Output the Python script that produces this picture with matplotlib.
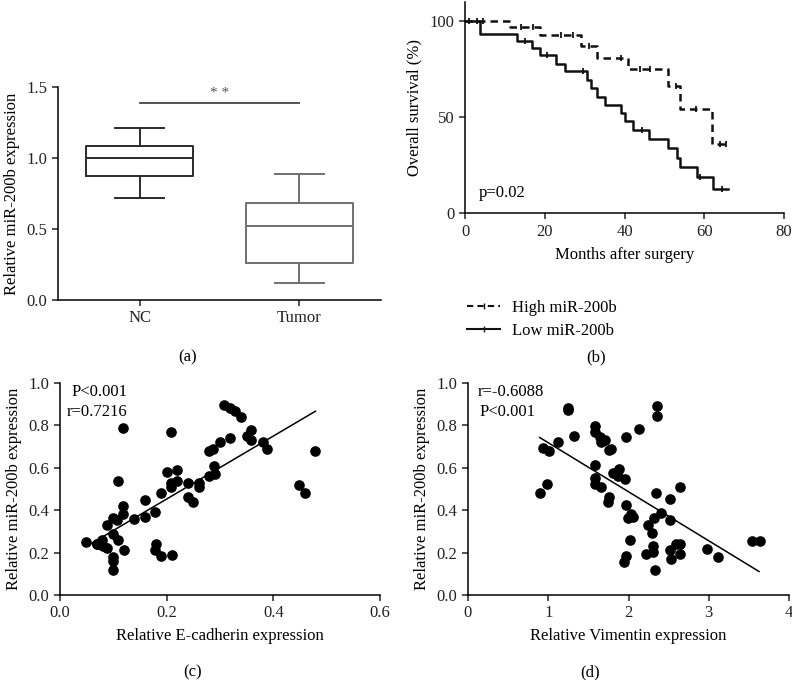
import matplotlib
matplotlib.use('Agg')
import matplotlib.pyplot as plt
from matplotlib.lines import Line2D
import numpy as np

plt.rcParams['font.family'] = ['Liberation Serif', 'DejaVu Serif']
plt.rcParams['font.size'] = 11
plt.rcParams['axes.linewidth'] = 1.1
plt.rcParams['xtick.major.size'] = 4
plt.rcParams['ytick.major.size'] = 4
plt.rcParams['xtick.major.width'] = 1.1
plt.rcParams['ytick.major.width'] = 1.1

# ---- (a) box plot summary values ----
groups = ['NC', 'Tumor']
box_q1 = [0.875, 0.26]
box_med = [1.0, 0.52]
box_q3 = [1.085, 0.685]
box_lo = [0.72, 0.12]
box_hi = [1.21, 0.89]
box_cols = ['#2b2b2b', '#707070']
sig_y = 1.39

# ---- (b) Kaplan-Meier curves ----
high_t = [0, 11.3, 18.8, 29, 33, 41, 51, 54, 62, 66]
high_s = [100, 96.7, 92.9, 87, 81, 75, 66, 54, 36, 36]
high_cens = [1, 3, 4.5, 14, 17, 24, 27, 31, 39, 44, 46.5, 53, 58, 64, 65.5]
low_t = [0, 3.8, 13, 16.7, 18.9, 22.9, 25, 30.5, 31.7, 33, 35, 39, 40.1,
         42.2, 46.2, 50.9, 53.2, 53.9, 58.2, 62.3, 66]
low_s = [100, 93.1, 89.7, 86.2, 82.1, 77.9, 74, 69.5, 65, 60.5, 56.3, 52,
         47.8, 43.3, 38.9, 34.1, 28.9, 24, 18.7, 12.5, 12.5]
low_cens = [15, 20.5, 29.5, 44.5, 59, 64.5]

# ---- (c) E-cadherin vs miR-200b ----
ecad_x = [0.049, 0.069, 0.07, 0.078, 0.081, 0.089, 0.089, 0.1, 0.1, 0.1, 0.1,
          0.099, 0.109, 0.107, 0.109, 0.119, 0.119, 0.119, 0.12, 0.139, 0.159,
          0.159, 0.179, 0.18, 0.179, 0.19, 0.19, 0.2, 0.209, 0.209, 0.209,
          0.21, 0.22, 0.22, 0.24, 0.24, 0.25, 0.26, 0.26, 0.279, 0.287, 0.279,
          0.289, 0.29, 0.3, 0.308, 0.319, 0.319, 0.329, 0.339, 0.35, 0.359,
          0.359, 0.38, 0.389, 0.449, 0.459, 0.479]
ecad_y = [0.25, 0.24, 0.24, 0.26, 0.23, 0.22, 0.33, 0.365, 0.29, 0.18, 0.16,
          0.12, 0.54, 0.355, 0.26, 0.79, 0.42, 0.38, 0.21, 0.36, 0.45,
          0.37, 0.39, 0.24, 0.21, 0.48, 0.185, 0.58, 0.77, 0.53, 0.51,
          0.19, 0.59, 0.54, 0.53, 0.46, 0.44, 0.53, 0.51, 0.68, 0.69, 0.56,
          0.61, 0.57, 0.72, 0.895, 0.74, 0.88, 0.87, 0.84, 0.75, 0.78,
          0.73, 0.72, 0.69, 0.52, 0.48, 0.68]
ecad_fit_x = [0.05, 0.479]
ecad_fit_y = [0.23, 0.867]

# ---- (d) Vimentin vs miR-200b ----
vim_x = [0.893, 0.934, 0.984, 1.009, 1.121, 1.321, 1.246, 1.246, 1.587, 1.578,
         1.587, 1.587, 1.587, 1.653, 1.649, 1.661, 1.703, 1.753, 1.786, 1.753,
         1.745, 1.807, 1.857, 1.882, 1.869, 1.973, 1.961, 1.973, 1.994, 2.035,
         2.056, 2.023, 1.973, 1.944, 2.131, 2.214, 2.247, 2.297, 2.305, 2.305,
         2.318, 2.334, 2.347, 2.355, 2.355, 2.409, 2.513, 2.521, 2.513, 2.534,
         2.596, 2.646, 2.646, 2.646, 2.982, 3.111, 3.543, 3.643]
vim_y = [0.483, 0.694, 0.522, 0.68, 0.721, 0.749, 0.884, 0.872, 0.796, 0.77,
         0.613, 0.55, 0.524, 0.509, 0.743, 0.723, 0.73, 0.683, 0.691, 0.464,
         0.437, 0.574, 0.581, 0.592, 0.561, 0.743, 0.545, 0.423, 0.362, 0.382,
         0.37, 0.26, 0.182, 0.158, 0.782, 0.194, 0.329, 0.292, 0.232, 0.205,
         0.362, 0.119, 0.483, 0.892, 0.843, 0.389, 0.453, 0.353, 0.212, 0.171,
         0.24, 0.24, 0.193, 0.511, 0.219, 0.179, 0.257, 0.254]
vim_fit_x = [0.893, 3.626]
vim_fit_y = [0.743, 0.111]

fig = plt.figure(figsize=(7.92, 6.8), dpi=100)
W, H = 792.0, 680.0
FS = 12


def add_ax(l, t, r, b):
    return fig.add_axes([l / W, 1 - b / H, (r - l) / W, (b - t) / H])


def style(ax):
    ax.spines['top'].set_visible(False)
    ax.spines['right'].set_visible(False)
    ax.tick_params(direction='out', colors='#222222', labelsize=FS)


#_____________________________ (a) _______________________________
ax = add_ax(58, 87, 381, 300)
stats = []
for i in range(2):
    stats.append(dict(label=groups[i], q1=box_q1[i], med=box_med[i], q3=box_q3[i],
                      whislo=box_lo[i], whishi=box_hi[i], fliers=[]))
for i in range(2):
    c = box_cols[i]
    ax.bxp([stats[i]], positions=[i + 1], widths=0.67, capwidths=0.31,
           showfliers=False,
           boxprops=dict(color=c, linewidth=1.4),
           medianprops=dict(color=c, linewidth=1.4),
           whiskerprops=dict(color=c, linewidth=1.4),
           capprops=dict(color=c, linewidth=1.4))
ax.plot([1, 2], [sig_y, sig_y], color='#444444', lw=1.3)
ax.text(1.5, sig_y + 0.02, '* *', ha='center', va='bottom', fontsize=11, color='#555555')
ax.set_xlim(0.49, 2.51)
ax.set_ylim(0, 1.5)
ax.set_xticks([1, 2])
ax.set_xticklabels(groups)
ax.set_yticks([0, 0.5, 1.0, 1.5])
ax.set_yticklabels(['0.0', '0.5', '1.0', '1.5'])
ax.set_ylabel('Relative miR-200b expression', fontsize=FS, labelpad=5)
style(ax)
fig.text(188 / W, 1 - 357 / H, '(a)', ha='center', va='center', fontsize=FS)

#_____________________________ (b) _______________________________
ax = add_ax(465, 1.8, 784, 213.3)


def surv_at(ts, ss, times):
    idx = np.searchsorted(ts, times, side='right') - 1
    return [ss[k] for k in idx]


ax.plot(high_t, high_s, drawstyle='steps-post', color='#111111', lw=1.8,
        linestyle=(0, (3, 2)))
ax.plot(low_t, low_s, drawstyle='steps-post', color='#111111', lw=1.8)
ax.plot(high_cens, surv_at(high_t, high_s, high_cens), '|', color='#111111',
        ms=5, mew=1.3, linestyle='none')
ax.plot(low_cens, surv_at(low_t, low_s, low_cens), '|', color='#111111',
        ms=5, mew=1.3, linestyle='none')
ax.text(3.5, 10.5, 'p=0.02', ha='left', va='center', fontsize=FS)
ax.set_xlim(0, 80)
ax.set_ylim(0, 110)
ax.set_xticks([0, 20, 40, 60, 80])
ax.set_yticks([0, 50, 100])
ax.set_xlabel('Months after surgery', fontsize=FS, labelpad=5)
ax.set_ylabel('Overall survival (%)', fontsize=FS, labelpad=5)
style(ax)
handles = [Line2D([], [], color='#111111', lw=1.5, linestyle=(0, (3, 2)), marker='|', ms=5,
                  markevery=[1]),
           Line2D([], [], color='#111111', lw=1.5, marker='|', ms=5, markevery=[1])]
leg = ax.legend(handles, ['High miR-200b', 'Low miR-200b'], loc='upper left',
                bbox_to_anchor=(452 / W, 1 - 285 / H), bbox_transform=fig.transFigure,
                frameon=False, handlelength=2.0, handletextpad=0.7, labelspacing=0.4,
                fontsize=FS)
fig.text(596 / W, 1 - 357 / H, '(b)', ha='center', va='center', fontsize=FS)

#_____________________________ (c) _______________________________
ax = add_ax(60, 383, 380, 595)
ax.scatter(ecad_x, ecad_y, s=44, color='black', zorder=3)
ax.plot(ecad_fit_x, ecad_fit_y, color='black', lw=1.1)
ax.text(0.075, 0.959, 'P<0.001', ha='center', va='center', fontsize=FS)
ax.text(0.069, 0.865, 'r=0.7216', ha='center', va='center', fontsize=FS)
ax.set_xlim(0, 0.6)
ax.set_ylim(0, 1.0)
ax.set_xticks([0, 0.2, 0.4, 0.6])
ax.set_xticklabels(['0.0', '0.2', '0.4', '0.6'])
ax.set_yticks([0, 0.2, 0.4, 0.6, 0.8, 1.0])
ax.set_yticklabels(['0.0', '0.2', '0.4', '0.6', '0.8', '1.0'])
ax.set_xlabel('Relative E-cadherin expression', fontsize=FS, labelpad=5)
ax.set_ylabel('Relative miR-200b expression', fontsize=FS, labelpad=5)
style(ax)
fig.text(193 / W, 1 - 672 / H, '(c)', ha='center', va='center', fontsize=FS)

#_____________________________ (d) _______________________________
ax = add_ax(468, 383, 789, 595)
ax.scatter(vim_x, vim_y, s=44, color='black', zorder=3)
ax.plot(vim_fit_x, vim_fit_y, color='black', lw=1.1)
ax.text(0.536, 0.959, 'r=-0.6088', ha='center', va='center', fontsize=FS)
ax.text(0.495, 0.865, 'P<0.001', ha='center', va='center', fontsize=FS)
ax.set_xlim(0, 4)
ax.set_ylim(0, 1.0)
ax.set_xticks([0, 1, 2, 3, 4])
ax.set_yticks([0, 0.2, 0.4, 0.6, 0.8, 1.0])
ax.set_yticklabels(['0.0', '0.2', '0.4', '0.6', '0.8', '1.0'])
ax.set_xlabel('Relative Vimentin expression', fontsize=FS, labelpad=5)
ax.set_ylabel('Relative miR-200b expression', fontsize=FS, labelpad=5)
style(ax)
fig.text(590 / W, 1 - 672 / H, '(d)', ha='center', va='center', fontsize=FS)

fig.savefig('out.png', dpi=100)
